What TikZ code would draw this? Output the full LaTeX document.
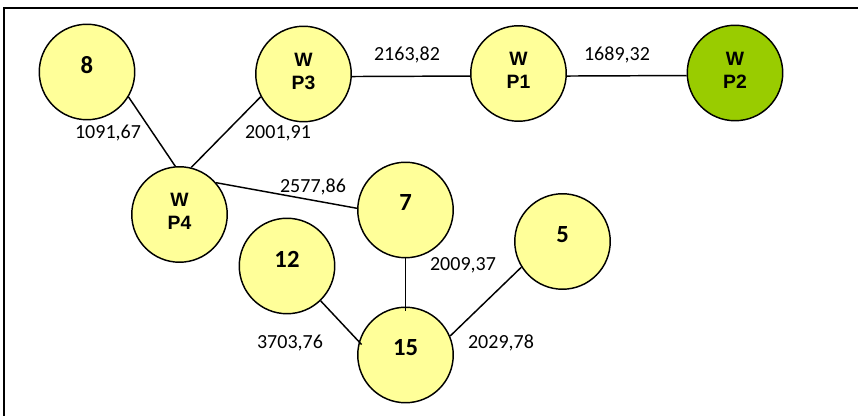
\documentclass[tikz,border=0pt]{standalone}
\usepackage{fontspec}
\setmainfont{Carlito}
\newfontfamily\arialf{Liberation Sans}
\definecolor{ylw}{HTML}{FFFF99}
\definecolor{grn}{HTML}{99CC00}
\begin{document}
\begin{tikzpicture}[x=0.75pt,y=-0.75pt,
  yc/.style={circle, draw, line width=1.1pt, fill=ylw, minimum size=71.6pt, inner sep=0pt},
  gc/.style={yc, fill=grn},
  numlab/.style={font=\fontsize{18.5}{20}\selectfont\bfseries, yshift=5.25pt},
  wplab/.style={font=\arialf\fontsize{14.5}{17.25}\selectfont\bfseries, align=center, yshift=2pt},
  elab/.style={font=\fontsize{15}{18}\selectfont, inner sep=0pt},
  conn/.style={line width=1.1pt}]
\useasboundingbox (0,0) rectangle (858,416);
\draw[line width=1.5pt] (4,418) -- (4,8) -- (860,8);
% nodes
\node[yc, label={[numlab]center:8}] (n8) at (87,72) {};
\node[yc, label={[wplab]center:W\\P3}] (wp3) at (303.5,74) {};
\node[yc, label={[wplab]center:W\\P1}] (wp1) at (518.5,73.5) {};
\node[gc, label={[wplab]center:W\\P2}] (wp2) at (735,73) {};
\node[yc, label={[wplab]center:W\\P4}] (wp4) at (179.5,214.5) {};
\node[yc, label={[numlab]center:7}] (n7) at (405.5,210) {};
\node[yc, label={[numlab]center:12}] (n12) at (287,266) {};
\node[yc, label={[numlab]center:15}] (n15) at (405.5,355) {};
\node[yc, label={[numlab]center:5}] (n5) at (562.5,241.5) {};
% connectors
\draw[conn] (n8.-31) -- (wp4.95);
\draw[conn] (wp3.-152) -- (wp4.76);
\draw[conn] (wp3.-3) -- (wp1.183);
\draw[conn] (wp1.-3) -- (wp2.183);
\draw[conn] (wp4.41) -- (n7.178);
\draw[conn, shorten >=-3pt] (n7.south) -- (n15.north);
\draw[conn, shorten >=-3pt] (n12.-46) -- (n15.164);
\draw[conn] (n5.212) -- (n15.23);
% edge labels
\node[elab] (l1) at (108,133) {1091,67};
\node[elab] (l2) at (278,133) {2001,91};
\node[elab] (l3) at (407,55) {2163,82};
\node[elab] (l4) at (617,55) {1689,32};
\node[elab] (l5) at (313,187) {2577,86};
\node[elab] (l6) at (463,265) {2009,37};
\node[elab] (l7) at (290,343) {3703,76};
\node[elab] (l8) at (501,343) {2029,78};
\end{tikzpicture}
\end{document}
